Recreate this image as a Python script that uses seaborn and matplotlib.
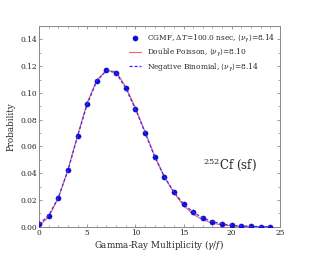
import numpy as np
import pandas as pd
import matplotlib
matplotlib.use("Agg")
import matplotlib.pyplot as plt
from matplotlib.ticker import MultipleLocator
import seaborn as sns

mult = list(range(25))
cgmf = [0.0018, 0.0082, 0.0217, 0.0421, 0.0676, 0.0917, 0.1089, 0.1169, 0.1151,
        0.1034, 0.0882, 0.0703, 0.0523, 0.0374, 0.0259, 0.0170, 0.0108, 0.0067,
        0.0037, 0.0020, 0.0010, 0.0005, 0.0002, 0.0001, 0.00005]
double_poisson = [0.0006, 0.0072, 0.0214, 0.0425, 0.0681, 0.0926, 0.1096, 0.1166, 0.1160,
                  0.1046, 0.0890, 0.0711, 0.0530, 0.0374, 0.0253, 0.0158, 0.0093, 0.0052,
                  0.0027, 0.0013, 0.0006, 0.0003, 0.0001, 0.00005, 0.00002]
neg_binomial = [0.0020, 0.0083, 0.0218, 0.0420, 0.0675, 0.0915, 0.1090, 0.1168, 0.1150,
                0.1035, 0.0880, 0.0705, 0.0525, 0.0375, 0.0260, 0.0170, 0.0108, 0.0066,
                0.0038, 0.0021, 0.0011, 0.0006, 0.0003, 0.0001, 0.00005]

labels = [r"CGMF, $\Delta T$=100.0 nsec, $\langle\nu_\gamma\rangle$=8.14",
          r"Double Poisson, $\langle\nu_\gamma\rangle$=8.10",
          r"Negative Binomial, $\langle\nu_\gamma\rangle$=8.14"]

df = pd.DataFrame({"mult": mult, "cgmf": cgmf, "dp": double_poisson, "nb": neg_binomial})

sns.set_style("ticks")
plt.rcParams["font.family"] = ["DejaVu Serif"]
plt.rcParams["mathtext.fontset"] = "dejavuserif"

fig = plt.figure(figsize=(3.12, 2.60), dpi=100)
ax = fig.add_axes([0.125, 0.128, 0.772, 0.772])

sns.scatterplot(data=df, x="mult", y="cgmf", ax=ax, color="#0a0ad0", s=14,
                edgecolor="#0a0ad0", linewidth=0.3, label=labels[0], zorder=3)
sns.lineplot(data=df, x="mult", y="dp", ax=ax, color="#ff5a5a", linewidth=0.8,
             label=labels[1], zorder=2)
sns.lineplot(data=df, x="mult", y="nb", ax=ax, color="#3030ff", linewidth=0.9,
             linestyle=(0, (2.5, 1.5)), label=labels[2], zorder=4)

ax.set_xlim(0, 25)
ax.set_ylim(0, 0.15)
ax.set_yticks(np.arange(0, 0.141, 0.02))
ax.set_xticks([0, 5, 10, 15, 20, 25])
ax.xaxis.set_minor_locator(MultipleLocator(1))
ax.yaxis.set_minor_locator(MultipleLocator(0.01))
ax.tick_params(which="both", direction="in", top=True, right=True, color="#888888",
               labelsize=5.4, pad=1.5)
ax.tick_params(which="major", length=2.5, width=0.6)
ax.tick_params(which="minor", length=1.3, width=0.5)
ax.set_yticklabels([f"{v:.2f}" for v in np.arange(0, 0.141, 0.02)])
for sp in ax.spines.values():
    sp.set_color("#888888")
    sp.set_linewidth(0.7)

ax.set_xlabel(r"Gamma-Ray Multiplicity ($\gamma/f$)", fontsize=6.3, labelpad=1)
ax.set_ylabel("Probability", fontsize=6.3, labelpad=3)

ax.text(0.68, 0.29, r"$^{252}$Cf (sf)", transform=ax.transAxes, fontsize=8.5)

leg = ax.legend(loc="upper right", bbox_to_anchor=(1.0, 0.99), fontsize=5.3,
                frameon=False, handlelength=1.7, borderaxespad=0.2,
                labelspacing=0.32, handletextpad=0.8)

fig.savefig("out.png", dpi=100)
